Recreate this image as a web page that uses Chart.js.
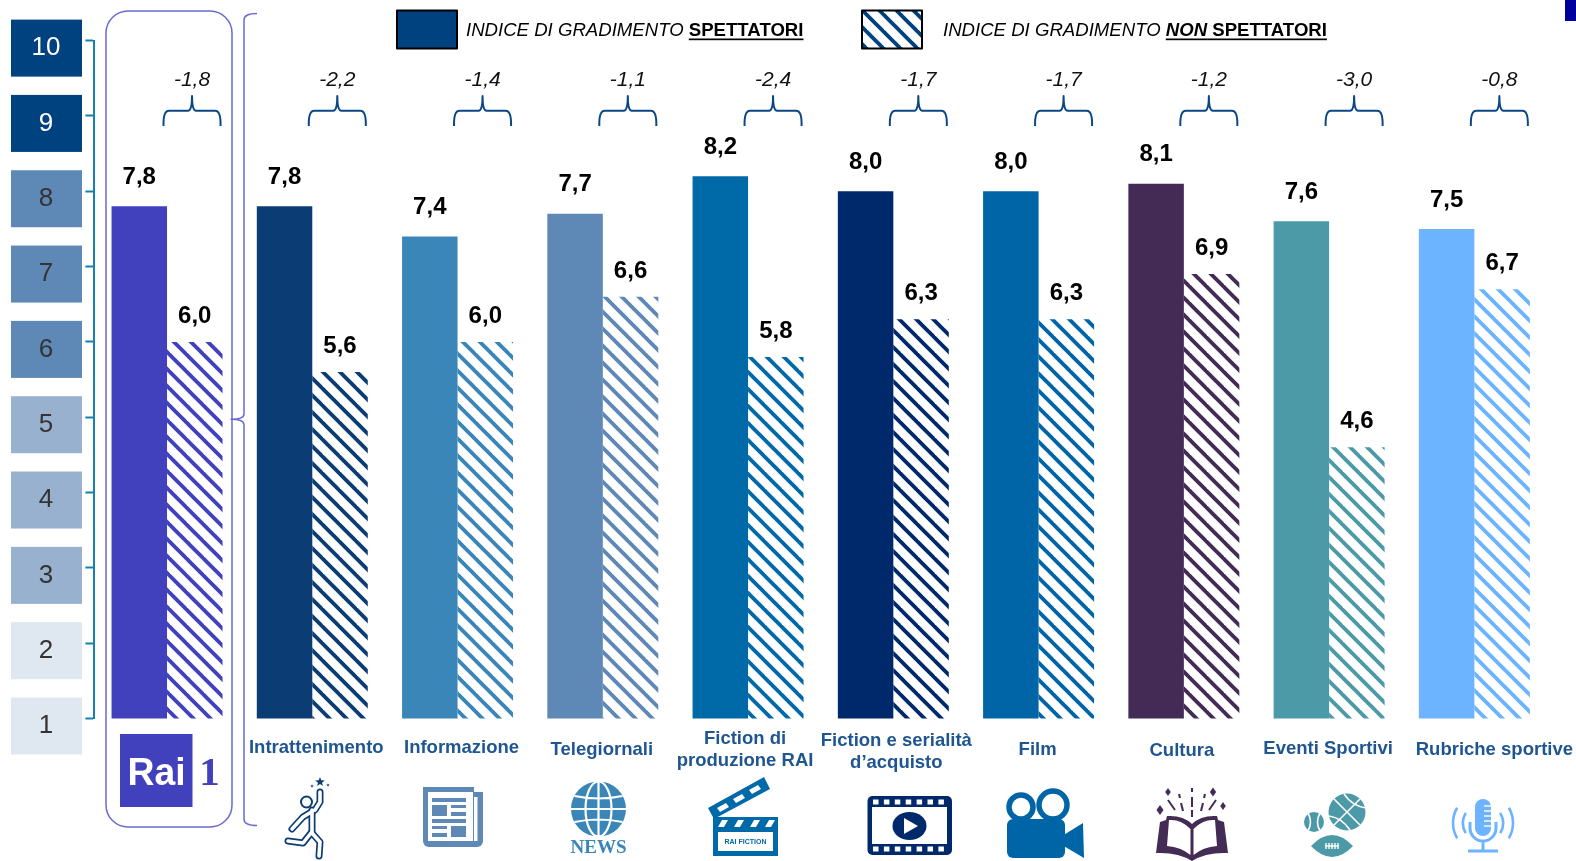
<!DOCTYPE html>
<html>
<head>
<meta charset="utf-8">
<title>Indice di gradimento</title>
<script src="https://cdn.jsdelivr.net/npm/chart.js@4/dist/chart.umd.min.js"></script>
<style>
  html, body { margin: 0; padding: 0; background: #fff; }
  canvas { display: block; }
</style>
</head>
<body>
<canvas id="chartCanvas" width="1576" height="861"></canvas>
<script>
const categories = ['Rai 1', 'Intrattenimento', 'Informazione', 'Telegiornali', 'Fiction di produzione RAI',
  'Fiction e serialità d’acquisto', 'Film', 'Cultura', 'Eventi Sportivi', 'Rubriche sportive'];
const spettatori = [7.8, 7.8, 7.4, 7.7, 8.2, 8.0, 8.0, 8.1, 7.6, 7.5];
const nonSpettatori = [6.0, 5.6, 6.0, 6.6, 5.8, 6.3, 6.3, 6.9, 4.6, 6.7];
const differenze = ['-1,8', '-2,2', '-1,4', '-1,1', '-2,4', '-1,7', '-1,7', '-1,2', '-3,0', '-0,8'];
const yTicks = [1, 2, 3, 4, 5, 6, 7, 8, 9, 10];

const barColors = ['#4141BE', '#0B3C73', '#3A86B8', '#5E88B5', '#0069A8', '#00296B', '#0065A6', '#432B55', '#4C9AA8', '#6CB4FF'];
const boxColors = { 10: '#00417F', 9: '#00417F', 8: '#5E88B5', 7: '#5E88B5', 6: '#5E88B5', 5: '#98B1CE', 4: '#98B1CE', 3: '#98B1CE', 2: '#DFE7F1', 1: '#DFE7F1' };

// etichette asse x: righe, spostamento dal centro del gruppo, y
const xLabels = [
  null,
  { lines: ['Intrattenimento'], dx: 4, y: [748] },
  { lines: ['Informazione'], dx: 4, y: [748] },
  { lines: ['Telegiornali'], dx: -1, y: [750] },
  { lines: ['Fiction di', 'produzione RAI'], dx: -3, y: [739, 761] },
  { lines: ['Fiction e serialità', 'd’acquisto'], dx: 3, y: [741, 763] },
  { lines: ['Film'], dx: -1, y: [750] },
  { lines: ['Cultura'], dx: -2, y: [751] },
  { lines: ['Eventi Sportivi'], dx: -1, y: [749] },
  { lines: ['Rubriche sportive'], dx: 20, y: [750] }
];

const SANS = '"Liberation Sans", Arial, sans-serif';
const LABEL_BLUE = '#1F5591';

function hatch(color) {
  const size = 17;
  const c = document.createElement('canvas');
  c.width = size;
  c.height = size;
  const g = c.getContext('2d');
  g.strokeStyle = color;
  g.lineWidth = 3.8;
  for (let k = -2; k <= 2; k++) {
    g.beginPath();
    g.moveTo(-2, -2 + k * size + 15);
    g.lineTo(size + 2, size + 2 + k * size + 15);
    g.stroke();
  }
  return document.createElement('canvas').getContext('2d').createPattern(c, 'repeat');
}

function rr(ctx, x, y, w, h, r) {
  ctx.beginPath();
  ctx.roundRect(x, y, w, h, r);
}

function poly(ctx, pts) {
  ctx.beginPath();
  pts.forEach((p, i) => i ? ctx.lineTo(p[0], p[1]) : ctx.moveTo(p[0], p[1]));
  ctx.closePath();
  ctx.fill();
}

function segs(ctx, list) {
  list.forEach(s => {
    ctx.beginPath();
    ctx.moveTo(s[0], s[1]);
    ctx.lineTo(s[2], s[3]);
    ctx.stroke();
  });
}

function star(ctx, cx, cy, r) {
  ctx.beginPath();
  for (let i = 0; i < 10; i++) {
    const a = -Math.PI / 2 + i * Math.PI / 5;
    const d = i % 2 ? r * 0.42 : r;
    ctx.lineTo(cx + Math.cos(a) * d, cy + Math.sin(a) * d);
  }
  ctx.closePath();
  ctx.fill();
}

function diamond(ctx, x, y, r) {
  poly(ctx, [[x, y - r], [x + r * 0.7, y], [x, y + r], [x - r * 0.7, y]]);
}

function drawFigure(ctx) {
  const color = barColors[1];
  const limbs = [
    [[315, 810], [320, 802], [320, 792]],
    [[313, 811], [303, 817], [292, 829]],
    [[312, 810], [312, 832]],
    [[311, 833], [303, 843], [288, 841]],
    [[312, 833], [320, 842], [319, 856]]
  ];
  ctx.lineJoin = 'round';
  ctx.lineCap = 'round';
  [[7, color], [3.6, '#fff']].forEach(style => {
    ctx.lineWidth = style[0];
    ctx.strokeStyle = style[1];
    limbs.forEach(l => {
      ctx.beginPath();
      l.forEach((p, i) => i ? ctx.lineTo(p[0], p[1]) : ctx.moveTo(p[0], p[1]));
      ctx.stroke();
    });
  });
  ctx.strokeStyle = color;
  ctx.lineWidth = 2;
  ctx.fillStyle = '#fff';
  ctx.beginPath();
  ctx.arc(306.5, 802, 5.5, 0, Math.PI * 2);
  ctx.fill();
  ctx.stroke();
  ctx.fillStyle = color;
  star(ctx, 320, 782, 5);
  star(ctx, 312, 786, 1.8);
  star(ctx, 328, 785, 1.8);
}

function drawNewspaper(ctx) {
  ctx.fillStyle = barColors[3];
  rr(ctx, 423, 787, 51, 60, [0, 0, 0, 6]);
  ctx.fill();
  rr(ctx, 440, 792, 43, 55, [0, 0, 6, 6]);
  ctx.fill();
  ctx.fillStyle = '#fff';
  ctx.fillRect(428, 792, 45, 49);
  ctx.fillRect(474, 797, 3.5, 44);
  ctx.fillStyle = barColors[3];
  [[432, 798, 34, 4], [432, 805, 15, 11], [451, 805, 15, 3], [451, 812, 15, 4], [432, 819, 34, 4],
    [432, 826, 15, 3], [432, 833, 15, 4], [451, 826, 15, 11]].forEach(r => ctx.fillRect(r[0], r[1], r[2], r[3]));
}

function drawGlobe(ctx) {
  const color = barColors[2];
  const cx = 598.5, cy = 809, r = 27.5;
  ctx.fillStyle = color;
  ctx.beginPath();
  ctx.arc(cx, cy, r, 0, Math.PI * 2);
  ctx.fill();
  ctx.strokeStyle = '#fff';
  ctx.lineWidth = 2.2;
  ctx.beginPath();
  ctx.ellipse(cx, cy, 13, r, 0, 0, Math.PI * 2);
  ctx.moveTo(cx, cy - r);
  ctx.lineTo(cx, cy + r);
  ctx.moveTo(cx - r, cy);
  ctx.lineTo(cx + r, cy);
  ctx.moveTo(cx - 24, cy - 13);
  ctx.quadraticCurveTo(cx, cy - 8, cx + 24, cy - 13);
  ctx.moveTo(cx - 24, cy + 13);
  ctx.quadraticCurveTo(cx, cy + 8, cx + 24, cy + 13);
  ctx.stroke();
  ctx.fillStyle = color;
  ctx.font = 'bold 19px "Liberation Serif", serif';
  ctx.textAlign = 'center';
  ctx.textBaseline = 'alphabetic';
  ctx.fillText('NEWS', 598.5, 853, 56);
}

function drawClapper(ctx) {
  const color = barColors[4];
  ctx.fillStyle = color;
  ctx.fillRect(713, 817, 65, 39);
  poly(ctx, [[708, 808], [764, 777], [770, 789], [714, 819]]);
  ctx.fillStyle = '#fff';
  ctx.fillRect(718, 832, 55, 19);
  [[719, 820], [735, 820], [751, 820], [766, 820]].forEach(p => {
    poly(ctx, [[p[0] + 3, p[1]], [p[0] + 9, p[1]], [p[0] + 5, p[1] + 7], [p[0] - 1, p[1] + 7]]);
  });
  [[717, 808], [733, 799], [749, 790]].forEach(p => {
    poly(ctx, [[p[0], p[1]], [p[0] + 9, p[1] - 5], [p[0] + 12, p[1] - 1], [p[0] + 3, p[1] + 4]]);
  });
  ctx.fillStyle = color;
  ctx.font = 'bold 7px ' + SANS;
  ctx.textAlign = 'center';
  ctx.textBaseline = 'middle';
  ctx.fillText('RAI FICTION', 745.5, 842);
}

function drawFilm(ctx) {
  const color = barColors[5];
  ctx.fillStyle = color;
  rr(ctx, 867.5, 796, 84.5, 59, 5);
  ctx.fill();
  ctx.fillStyle = '#fff';
  ctx.fillRect(872, 807, 75, 37);
  for (let i = 0; i < 7; i++) {
    const x = 873 + i * 10.9;
    ctx.fillRect(x, 799.5, 5.5, 5);
    ctx.fillRect(x, 846.5, 5.5, 5);
  }
  ctx.fillStyle = color;
  ctx.beginPath();
  ctx.ellipse(909.5, 826, 17, 14, 0, 0, Math.PI * 2);
  ctx.fill();
  ctx.fillStyle = '#fff';
  poly(ctx, [[904, 818], [918, 826], [904, 834]]);
}

function drawCamera(ctx) {
  const color = barColors[6];
  ctx.strokeStyle = color;
  ctx.lineWidth = 5.5;
  ctx.beginPath();
  ctx.arc(1021, 807, 12, 0, Math.PI * 2);
  ctx.stroke();
  ctx.beginPath();
  ctx.arc(1053, 805, 14, 0, Math.PI * 2);
  ctx.stroke();
  ctx.fillStyle = color;
  rr(ctx, 1007, 819, 58, 39, 6);
  ctx.fill();
  poly(ctx, [[1062, 836], [1083, 823], [1084, 858], [1062, 845]]);
}

function drawBook(ctx) {
  const color = barColors[7];
  ctx.fillStyle = color;
  ctx.strokeStyle = color;
  ctx.beginPath();
  ctx.moveTo(1192, 861);
  ctx.quadraticCurveTo(1178, 852, 1156, 853);
  ctx.lineTo(1160, 822);
  ctx.lineTo(1166, 820);
  ctx.lineTo(1167, 816);
  ctx.quadraticCurveTo(1183, 815, 1192, 824);
  ctx.quadraticCurveTo(1201, 815, 1217, 816);
  ctx.lineTo(1218, 820);
  ctx.lineTo(1224, 822);
  ctx.lineTo(1228, 853);
  ctx.quadraticCurveTo(1206, 852, 1192, 861);
  ctx.closePath();
  ctx.fill();
  ctx.fillStyle = '#fff';
  ctx.beginPath();
  ctx.moveTo(1190.5, 829);
  ctx.quadraticCurveTo(1181, 819, 1169, 820);
  ctx.lineTo(1167, 846);
  ctx.quadraticCurveTo(1181, 847, 1190.5, 855);
  ctx.closePath();
  ctx.moveTo(1193.5, 829);
  ctx.quadraticCurveTo(1203, 819, 1215, 820);
  ctx.lineTo(1217, 846);
  ctx.quadraticCurveTo(1203, 847, 1193.5, 855);
  ctx.closePath();
  ctx.fill();
  ctx.lineWidth = 2;
  ctx.lineCap = 'butt';
  segs(ctx, [[1192, 788, 1192, 792], [1192, 797, 1192, 807], [1192, 810, 1192, 817],
    [1168, 800, 1175, 810], [1179, 794, 1180, 798], [1181, 803, 1183, 811],
    [1216, 800, 1209, 810], [1205, 794, 1204, 798], [1203, 803, 1201, 811]]);
  ctx.fillStyle = color;
  diamond(ctx, 1168, 792, 4);
  diamond(ctx, 1160, 810, 5);
  diamond(ctx, 1213, 792, 4.5);
  diamond(ctx, 1223, 806, 4);
}

function drawBalls(ctx) {
  const color = barColors[8];
  ctx.fillStyle = color;
  ctx.beginPath();
  ctx.arc(1347, 812, 18.5, 0, Math.PI * 2);
  ctx.fill();
  ctx.beginPath();
  ctx.arc(1314, 822, 10, 0, Math.PI * 2);
  ctx.fill();
  ctx.strokeStyle = '#fff';
  ctx.lineWidth = 1.6;
  ctx.beginPath();
  ctx.moveTo(1334, 799);
  ctx.lineTo(1360, 825);
  ctx.moveTo(1360, 799);
  ctx.lineTo(1334, 825);
  ctx.moveTo(1344, 794);
  ctx.quadraticCurveTo(1352, 806, 1366, 808);
  ctx.moveTo(1329, 816);
  ctx.quadraticCurveTo(1342, 818, 1350, 830);
  ctx.moveTo(1308, 813);
  ctx.quadraticCurveTo(1313, 822, 1308, 831);
  ctx.moveTo(1320, 813);
  ctx.quadraticCurveTo(1315, 822, 1320, 831);
  ctx.stroke();
  ctx.fillStyle = color;
  ctx.beginPath();
  ctx.moveTo(1311, 846);
  ctx.quadraticCurveTo(1332, 824, 1353, 846);
  ctx.quadraticCurveTo(1332, 868, 1311, 846);
  ctx.fill();
  ctx.lineWidth = 1.4;
  segs(ctx, [[1325, 846, 1339, 846], [1326, 843, 1326, 849], [1329, 843, 1329, 849], [1332, 843, 1332, 849], [1335, 843, 1335, 849], [1338, 843, 1338, 849]]);
}

function drawMic(ctx) {
  const color = barColors[9];
  ctx.fillStyle = color;
  rr(ctx, 1475, 799, 16, 37, 8);
  ctx.fill();
  ctx.strokeStyle = color;
  ctx.lineWidth = 3;
  ctx.beginPath();
  ctx.moveTo(1470, 822);
  ctx.lineTo(1470, 828);
  ctx.arc(1483, 828, 13, Math.PI, 0, true);
  ctx.lineTo(1496, 822);
  ctx.moveTo(1483, 841);
  ctx.lineTo(1483, 850);
  ctx.moveTo(1468, 851);
  ctx.lineTo(1498, 851);
  ctx.stroke();
  ctx.strokeStyle = '#fff';
  ctx.lineWidth = 1.4;
  segs(ctx, [[1484, 806, 1491, 806], [1484, 811, 1491, 811], [1484, 816, 1491, 816], [1484, 821, 1491, 821], [1484, 826, 1491, 826]]);
  ctx.strokeStyle = color;
  ctx.lineWidth = 2.6;
  [[1483, 20], [1483, 30]].forEach(a => {
    ctx.beginPath();
    ctx.arc(a[0], 823, a[1], Math.PI * 0.83, Math.PI * 1.17);
    ctx.stroke();
    ctx.beginPath();
    ctx.arc(a[0], 823, a[1], -Math.PI * 0.17, Math.PI * 0.17);
    ctx.stroke();
  });
}

function drawRaiLogo(ctx) {
  const color = barColors[0];
  ctx.fillStyle = color;
  ctx.fillRect(120, 734, 72.5, 73);
  ctx.textAlign = 'center';
  ctx.textBaseline = 'alphabetic';
  ctx.fillStyle = '#fff';
  ctx.font = 'bold 39px ' + SANS;
  ctx.fillText('Rai', 156.5, 785, 58);
  ctx.fillStyle = color;
  ctx.font = 'bold 41px "Liberation Serif", serif';
  ctx.fillText('1', 209.5, 785);
}

function drawLegend(ctx) {
  const blue = '#00417F';
  ctx.fillStyle = blue;
  ctx.fillRect(397, 10.5, 60, 38);
  ctx.fillStyle = '#fff';
  ctx.fillRect(862, 10.5, 60, 38);
  ctx.fillStyle = legendPattern;
  ctx.fillRect(862, 10.5, 60, 38);
  ctx.strokeStyle = '#000';
  ctx.lineWidth = 2;
  ctx.strokeRect(397, 10.5, 60, 38);
  ctx.strokeRect(862, 10.5, 60, 38);

  ctx.textAlign = 'left';
  ctx.textBaseline = 'alphabetic';
  ctx.fillStyle = '#000';
  const parts = [
    { x: 466, runs: [['italic', 'INDICE DI GRADIMENTO ', false], ['bold', 'SPETTATORI', true]] },
    { x: 943, runs: [['italic', 'INDICE DI GRADIMENTO ', false], ['italic bold', 'NON', true], ['bold', ' SPETTATORI', true]] }
  ];
  parts.forEach(p => {
    let x = p.x;
    p.runs.forEach(r => {
      ctx.font = r[0] + ' 18.6px ' + SANS;
      ctx.fillText(r[1], x, 36);
      const w = ctx.measureText(r[1]).width;
      if (r[2]) ctx.fillRect(x, 38.5, w, 1.7);
      x += w;
    });
  });
}

function drawBrace(ctx, cx) {
  ctx.strokeStyle = '#0B4785';
  ctx.lineWidth = 2;
  ctx.lineCap = 'butt';
  ctx.lineJoin = 'round';
  ctx.beginPath();
  ctx.moveTo(cx - 28.5, 126);
  ctx.quadraticCurveTo(cx - 29, 110.7, cx - 23, 110.7);
  ctx.lineTo(cx - 4, 110.7);
  ctx.quadraticCurveTo(cx, 110.7, cx, 96);
  ctx.quadraticCurveTo(cx, 110.7, cx + 4, 110.7);
  ctx.lineTo(cx + 23, 110.7);
  ctx.quadraticCurveTo(cx + 29, 110.7, cx + 28.5, 126);
  ctx.stroke();
}

// riquadri dietro ai numeri dell'asse y
const scaleBoxes = {
  id: 'scaleBoxes',
  beforeDraw(chart) {
    const ctx = chart.ctx;
    const y = chart.scales.y;
    yTicks.forEach(v => {
      ctx.fillStyle = boxColors[v];
      ctx.fillRect(11, y.getPixelForValue(v) - 21, 71, 57);
    });
  }
};

const annotations = {
  id: 'annotations',
  afterDraw(chart) {
    const ctx = chart.ctx;
    const x = chart.scales.x;
    ctx.save();

    // valori sopra le barre
    ctx.fillStyle = '#000';
    ctx.font = 'bold 24px ' + SANS;
    ctx.textAlign = 'center';
    ctx.textBaseline = 'middle';
    [[0, spettatori, 29], [1, nonSpettatori, 25.5]].forEach(s => {
      const meta = chart.getDatasetMeta(s[0]);
      s[1].forEach((v, i) => {
        ctx.fillText(v.toFixed(1).replace('.', ','), meta.data[i].x, meta.data[i].y - s[2]);
      });
    });

    // differenze con graffa
    differenze.forEach((d, i) => {
      const cx = x.getPixelForValue(i) + 25;
      drawBrace(ctx, cx);
      ctx.fillStyle = '#111';
      ctx.font = 'italic 21px ' + SANS;
      ctx.textAlign = 'center';
      ctx.textBaseline = 'middle';
      ctx.fillText(d, cx, 80);
    });

    // nomi delle categorie
    ctx.fillStyle = LABEL_BLUE;
    ctx.font = 'bold 18.5px ' + SANS;
    ctx.textAlign = 'center';
    ctx.textBaseline = 'middle';
    xLabels.forEach((l, i) => {
      if (!l) return;
      l.lines.forEach((t, k) => ctx.fillText(t, x.getPixelForValue(i) + l.dx, l.y[k]));
    });

    // cornice Rai 1 e parentesi
    ctx.strokeStyle = '#6A6AD2';
    ctx.lineWidth = 1.5;
    rr(ctx, 106, 11, 126, 816, 22);
    ctx.stroke();
    ctx.beginPath();
    ctx.moveTo(257, 13.5);
    ctx.quadraticCurveTo(244, 13.5, 244, 20);
    ctx.lineTo(244, 414);
    ctx.quadraticCurveTo(244, 419.3, 231, 419.3);
    ctx.quadraticCurveTo(244, 419.3, 244, 425);
    ctx.lineTo(244, 819);
    ctx.quadraticCurveTo(244, 825.5, 257, 825.5);
    ctx.stroke();

    drawRaiLogo(ctx);
    drawLegend(ctx);
    [drawFigure, drawNewspaper, drawGlobe, drawClapper, drawFilm, drawCamera, drawBook, drawBalls, drawMic].forEach(fn => {
      ctx.save();
      fn(ctx);
      ctx.restore();
    });

    // quadratino in alto a destra
    ctx.fillStyle = '#00009C';
    ctx.fillRect(1565, 0, 11, 21);
    ctx.restore();
  }
};

const legendPattern = hatch('#00417F');

function initChart() {
  const ctx = document.getElementById('chartCanvas').getContext('2d');
  new Chart(ctx, {
    type: 'bar',
    data: {
      labels: categories,
      datasets: [
        { label: 'Indice di gradimento spettatori', data: spettatori, backgroundColor: barColors },
        { label: 'Indice di gradimento non spettatori', data: nonSpettatori, backgroundColor: barColors.map(hatch) }
      ]
    },
    plugins: [scaleBoxes, annotations],
    options: {
      responsive: false,
      animation: false,
      layout: { padding: { top: 28, right: 29, bottom: 0, left: 0 } },
      datasets: { bar: { categoryPercentage: 0.764, barPercentage: 1, borderWidth: 0 } },
      plugins: { legend: { display: false }, tooltip: { enabled: false } },
      scales: {
        x: {
          grid: { display: false },
          border: { display: false },
          ticks: { display: false },
          afterFit: s => { s.height = 142.5; }
        },
        y: {
          min: 1,
          max: 10,
          afterBuildTicks: s => { s.ticks = yTicks.map(v => ({ value: v })); },
          afterFit: s => { s.width = 94.4; },
          border: { display: true, color: '#1581AE', width: 2 },
          grid: { drawOnChartArea: false, drawTicks: true, tickLength: 9, tickColor: '#1581AE', tickWidth: 2 },
          ticks: {
            font: { family: SANS, size: 26 },
            color: c => (c.tick.value >= 9 ? '#fff' : '#333'),
            crossAlign: 'center',
            padding: 25,
            labelOffset: 7.5
          }
        }
      }
    }
  });
}

document.addEventListener('DOMContentLoaded', initChart);
</script>
</body>
</html>
